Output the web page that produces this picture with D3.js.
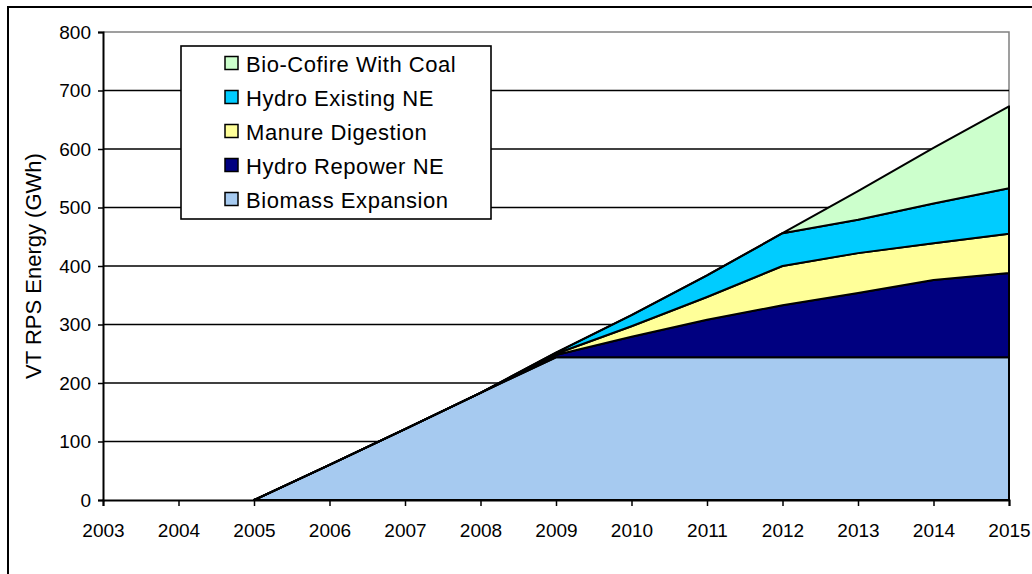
<!DOCTYPE html>
<html>
<head>
<meta charset="utf-8">
<script src="https://cdn.jsdelivr.net/npm/d3@7"></script>
<style>
  html, body { margin: 0; padding: 0; background: #fff; }
  svg { display: block; font-family: Arial, "Liberation Sans", sans-serif; }
</style>
</head>
<body>
<svg id="chart" width="1032" height="574"></svg>
<script>
// Years shown on the axis and the years that carry data
const years = [2003, 2004, 2005, 2006, 2007, 2008, 2009, 2010, 2011, 2012, 2013, 2014, 2015];
const dataYears = [2005, 2006, 2007, 2008, 2009, 2010, 2011, 2012, 2013, 2014, 2015];

// Annual energy per resource (GWh), stacked bottom to top
const biomassExpansion = [0, 60, 121, 183, 244, 244, 244, 244, 244, 244, 244];
const hydroRepowerNE   = [0, 0, 0, 0, 4, 35, 64, 89, 110, 132, 144];
const manureDigestion  = [0, 0, 0, 0, 2, 18, 39, 67, 68, 63, 67];
const hydroExistingNE  = [0, 0, 0, 0, 2, 19, 37, 56, 57, 68, 78];
const bioCofireCoal    = [0, 0, 0, 0, 0, 0, 0, 0, 49, 95, 140];

const seriesNames = ["Biomass Expansion", "Hydro Repower NE", "Manure Digestion", "Hydro Existing NE", "Bio-Cofire With Coal"];
const seriesColors = ["#A6CAF0", "#000080", "#FFFF99", "#00CCFF", "#CCFFCC"];
const yTicks = [0, 100, 200, 300, 400, 500, 600, 700, 800];

const seriesValues = [biomassExpansion, hydroRepowerNE, manureDigestion, hydroExistingNE, bioCofireCoal];
const rows = dataYears.map((yr, i) => {
  const r = { year: yr };
  seriesNames.forEach((n, k) => { r[n] = seriesValues[k][i]; });
  return r;
});

const svg = d3.select("#chart");
const plotLeft = 103, plotRight = 1009, plotTop = 32, plotBottom = 500;
const fontStack = "Arial, 'Liberation Sans', sans-serif";

const x = d3.scaleLinear().domain([2003, 2015]).range([plotLeft, plotRight]);
const y = d3.scaleLinear().domain([0, 800]).range([plotBottom, plotTop]);

// Outer chart frame
svg.append("rect").attr("x", 8).attr("y", 7).attr("width", 1040).attr("height", 600)
  .attr("fill", "#fff").attr("stroke", "#000").attr("stroke-width", 2);

// Plot area border (grey top and right)
svg.append("path")
  .attr("d", `M${plotLeft},${plotTop}H${plotRight}V${plotBottom}`)
  .attr("fill", "none").attr("stroke", "#808080").attr("stroke-width", 1.5);

// Horizontal gridlines
svg.append("g").selectAll("line").data(yTicks.filter(t => t > 0 && t < 800)).join("line")
  .attr("x1", plotLeft).attr("x2", plotRight)
  .attr("y1", d => y(d)).attr("y2", d => y(d))
  .attr("stroke", "#000").attr("stroke-width", 1.4);

// Stacked areas
const stack = d3.stack().keys(seriesNames);
const layers = stack(rows);
const area = d3.area()
  .x(d => x(d.data.year))
  .y0(d => y(d[0]))
  .y1(d => y(d[1]));

svg.append("g").selectAll("path").data(layers).join("path")
  .attr("d", area)
  .attr("fill", (d, i) => seriesColors[i])
  .attr("stroke", "#000").attr("stroke-width", 2).attr("stroke-linejoin", "round");

// Y axis
const yAxis = svg.append("g").attr("transform", `translate(${plotLeft},0)`)
  .call(d3.axisLeft(y).tickValues(yTicks).tickSize(5).tickPadding(7));
yAxis.select(".domain").attr("stroke", "#000").attr("stroke-width", 2);
yAxis.selectAll(".tick line").attr("stroke", "#000").attr("stroke-width", 1.5);
yAxis.selectAll("text").attr("font-size", 19).attr("fill", "#000")
  .attr("font-family", fontStack);

// X axis
const xAxis = svg.append("g").attr("transform", `translate(0,${plotBottom})`)
  .call(d3.axisBottom(x).tickValues(years).tickFormat(d3.format("d")).tickSize(6).tickPadding(18));
xAxis.select(".domain").attr("stroke", "#000").attr("stroke-width", 2);
xAxis.selectAll(".tick line").attr("stroke", "#000").attr("stroke-width", 1.5);
xAxis.selectAll("text").attr("font-size", 19).attr("fill", "#000")
  .attr("font-family", fontStack);

// Y axis title
svg.append("text")
  .attr("transform", "translate(41,266) rotate(-90)")
  .attr("text-anchor", "middle")
  .attr("font-size", 22).attr("fill", "#000")
  .text("VT RPS Energy (GWh)");

// Legend, top series first
const legend = svg.append("g");
legend.append("rect").attr("x", 181).attr("y", 46).attr("width", 310).attr("height", 173)
  .attr("fill", "#fff").attr("stroke", "#000").attr("stroke-width", 1.6);
const legendOrder = seriesNames.map((n, i) => i).reverse();
const items = legend.selectAll("g.item").data(legendOrder).join("g")
  .attr("class", "item")
  .attr("transform", (d, j) => `translate(0,${63.5 + j * 34})`);
items.append("rect").attr("x", 225).attr("y", -7).attr("width", 13).attr("height", 13)
  .attr("fill", d => seriesColors[d]).attr("stroke", "#000").attr("stroke-width", 1.5);
items.append("text").attr("x", 246).attr("y", 8)
  .attr("font-size", 22).attr("letter-spacing", 0.55).attr("fill", "#000")
  .text(d => seriesNames[d]);
</script>
</body>
</html>
